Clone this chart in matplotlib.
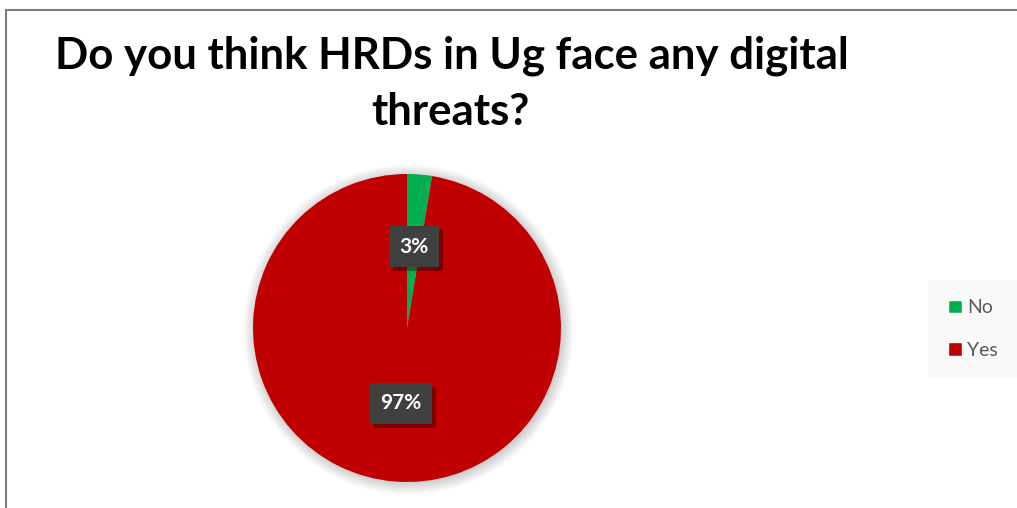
import matplotlib
matplotlib.use("Agg")
from matplotlib import pyplot as plt
from matplotlib.lines import Line2D
from matplotlib.patches import Circle, Patch
import matplotlib.patheffects as pe
import numpy as np

labels = ["No", "Yes"]
values = [2.6, 97.4]
colors = ["#00B050", "#C00000"]
title_lines = ["Do you think HRDs in Ug face any digital", "threats?"]

W, H = 1017, 508
fig = plt.figure(figsize=(W / 100, H / 100), dpi=100)
plt.rcParams['font.family'] = ['Lato', 'DejaVu Sans']

# frame lines (top and left only visible in the crop)
fig.add_artist(Line2D([6 / W, 1], [1 - 10 / H] * 2, color="#7f7f7f", lw=1.5))
fig.add_artist(Line2D([6 / W] * 2, [0, 1 - 10 / H], color="#7f7f7f", lw=1.5))

# title
fig.text(452 / W, 1 - 69 / H, title_lines[0], ha="center", va="baseline",
         fontsize=31.5, fontweight="bold", color="black")
fig.text(450 / W, 1 - 125 / H, title_lines[1], ha="center", va="baseline",
         fontsize=31.5, fontweight="bold", color="black")

# pie
cx, cy, r = 407, 328, 154
ax = fig.add_axes([(cx - r) / W, (H - cy - r) / H, 2 * r / W, 2 * r / H])

wedges, texts = ax.pie(values, colors=colors, startangle=90, counterclock=False,
                       radius=1, wedgeprops=dict(linewidth=0))
for w in wedges:
    w.set_zorder(2)
ax.set_xlim(-1, 1)
ax.set_ylim(-1, 1)
ax.axis("off")

# soft shadow
for i in range(8):
    ax.add_patch(Circle((0.01, -0.01), 1.0 + i * 0.01, color="black",
                        alpha=0.025, lw=0, clip_on=False, zorder=0))

# data labels
total = sum(values)
ang = 90
for v, dist in zip(values, [0.53, 0.49]):
    mid = ang - v / total * 360 / 2
    ang -= v / total * 360
    x = dist * np.cos(np.radians(mid))
    y = dist * np.sin(np.radians(mid))
    txt = "%.0f%%" % (v / total * 100)
    t = ax.text(x, y, txt, ha="center", va="center", fontsize=15, fontweight="bold",
                color="white", zorder=4,
                bbox=dict(boxstyle="square,pad=0.5", fc="#404040", ec="none"))
    t.get_bbox_patch().set_path_effects([
        pe.SimplePatchShadow(offset=(3, -3), shadow_rgbFace="black", alpha=0.35),
        pe.Normal()])

# legend
handles = [Patch(facecolor=c, edgecolor="white", label=l) for c, l in zip(colors, labels)]
leg = fig.legend(handles=handles, loc="center", bbox_to_anchor=(973 / W, 1 - 329 / H),
                 frameon=True, fontsize=14, handlelength=0.7, handleheight=0.7,
                 handletextpad=0.3, labelspacing=1.3, borderpad=0.7)
leg.get_frame().set_facecolor("#F8F8F8")
leg.get_frame().set_edgecolor("none")
leg.get_frame().set_boxstyle("square")
for t in leg.get_texts():
    t.set_color("#595959")

fig.savefig("out.png", dpi=100)
